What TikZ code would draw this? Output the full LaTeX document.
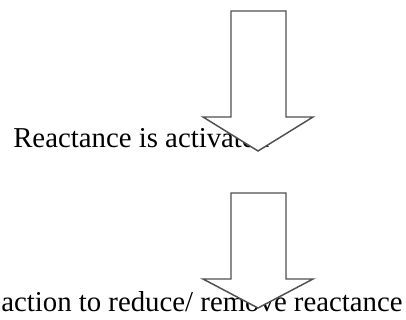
\documentclass[tikz,border=0pt]{standalone}
\usepackage{fontspec}
\setmainfont{Liberation Serif}
\usepackage{xcolor}
\usetikzlibrary{positioning}
\definecolor{arrowgray}{HTML}{505050}
\tikzset{
  steptext/.style={anchor=base west, inner sep=0pt, font=\fontsize{21.6}{24}\selectfont},
  blockarrow/.style={draw=arrowgray, fill=white, line width=1.1pt, line join=miter}
}

\begin{document}
\begin{tikzpicture}[x=0.75pt, y=-0.75pt]
    \useasboundingbox (0,0) rectangle (406,320);

    \node[steptext] (react) at (13,148) {Reactance is activated};
    \node[steptext] (action) at (1,311) {action to reduce/ remove reactance};

    % block arrows drawn over the text
    \draw[blockarrow] (231,11) -- (286,11) -- (286,117) -- (313,117)
        -- (258,151) -- (203,117) -- (231,117) -- cycle;
    \draw[blockarrow] (231,193) -- (286,193) -- (286,279) -- (313,279)
        -- (258,308) -- (203,279) -- (231,279) -- cycle;
  \end{tikzpicture}
\end{document}
